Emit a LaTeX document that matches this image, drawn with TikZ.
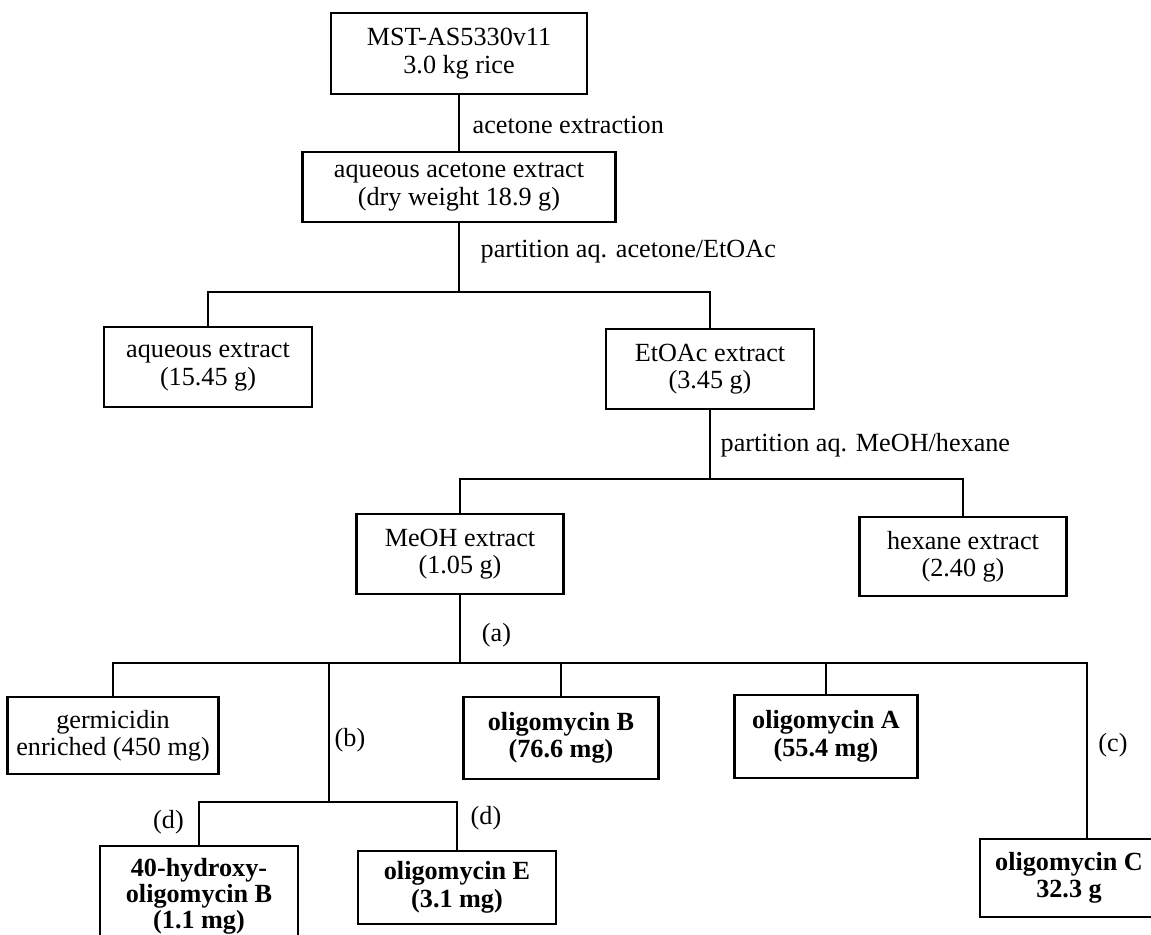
\documentclass[tikz,border=0pt]{standalone}
\usepackage{fontspec}
\setmainfont{Liberation Serif}
\usepackage{tikz}
\usetikzlibrary{positioning}

\begin{document}
\begin{tikzpicture}[
  every node/.style={font=\fontsize{7.45}{7.8}\selectfont},
  box/.style={draw,line width=0.65pt,align=center,inner sep=0pt},
  boldbox/.style={box,font=\fontsize{7.45}{7.8}\selectfont\bfseries},
  lbl/.style={inner sep=0pt},
  line width=0.4pt]
\useasboundingbox (0,0) rectangle (11.51,-9.35);
% extraction and partitions
\node[box,minimum width=2.56cm,minimum height=0.81cm] (rice) at (4.59,-0.535) {MST-AS5330v11\\3.0 kg rice};
\node[box,minimum width=3.13cm,minimum height=0.70cm] (aqac) at (4.59,-1.87) {aqueous acetone extract\\(dry weight 18.9 g)};
\node[box,minimum width=2.08cm,minimum height=0.80cm] (aqex) at (2.08,-3.67) {aqueous extract\\(15.45 g)};
\node[box,minimum width=2.08cm,minimum height=0.80cm] (etoac) at (7.10,-3.69) {EtOAc extract\\(3.45 g)};
\node[box,minimum width=2.07cm,minimum height=0.80cm] (meoh) at (4.60,-5.54) {MeOH extract\\(1.05 g)};
\node[box,minimum width=2.07cm,minimum height=0.79cm] (hex) at (9.63,-5.565) {hexane extract\\(2.40 g)};
% fractions
\node[box,minimum width=2.11cm,minimum height=0.77cm] (germ) at (1.13,-7.355) {germicidin\\enriched (450 mg)};
\node[boldbox,minimum width=1.95cm,minimum height=0.82cm] (oligB) at (5.61,-7.38) {oligomycin B\\(76.6 mg)};
\node[boldbox,minimum width=1.83cm,minimum height=0.83cm] (oligA) at (8.26,-7.365) {oligomycin A\\(55.4 mg)};
\node[boldbox,minimum width=1.98cm,minimum height=1.00cm,font=\fontsize{7.45}{7.35}\selectfont\bfseries] (hydB) at (1.99,-8.96) {40-hydroxy-\\oligomycin B\\(1.1 mg)};
\node[boldbox,minimum width=1.98cm,minimum height=0.73cm] (oligE) at (4.57,-8.875) {oligomycin E\\(3.1 mg)};
\node[boldbox,minimum width=1.78cm,minimum height=0.78cm] (oligC) at (10.69,-8.78) {oligomycin C\\32.3 g};
% branch points
\coordinate (j1) at (4.59,-2.92);
\coordinate (j2) at (7.10,-4.79);
\coordinate (j3) at (4.60,-6.63);
\coordinate (jb) at (3.29,-8.02);
\coordinate (jc) at (10.87,-6.63);
\draw (rice) to (aqac);
\draw (aqac) to (j1);
\draw (aqex) |- (j1) -| (etoac);
\draw (etoac) to (j2);
\draw (meoh) |- (j2) -| (hex);
\draw (meoh) to (j3);
\draw (germ) |- (jc) -- (jc |- oligC.north);
\draw (oligB) to (oligB |- j3);
\draw (oligA) to (oligA |- j3);
\draw (jb |- j3) to (jb);
\draw (hydB) |- (jb) -| (oligE);
% labels
\node[lbl,anchor=west] (ext) at (4.72,-1.25) {acetone extraction};
\node[lbl,anchor=west] (part1) at (4.80,-2.52) {partition aq. acetone/EtOAc};
\node[lbl,anchor=west] (part2) at (7.20,-4.45) {partition aq. MeOH/hexane};
\node[lbl] (la) at (4.965,-6.35) {(a)};
\node[lbl] (lb) at (3.50,-7.40) {(b)};
\node[lbl] (lc) at (11.13,-7.45) {(c)};
\node[lbl] (ld1) at (1.685,-8.22) {(d)};
\node[lbl] (ld2) at (4.86,-8.18) {(d)};
\end{tikzpicture}
\end{document}
